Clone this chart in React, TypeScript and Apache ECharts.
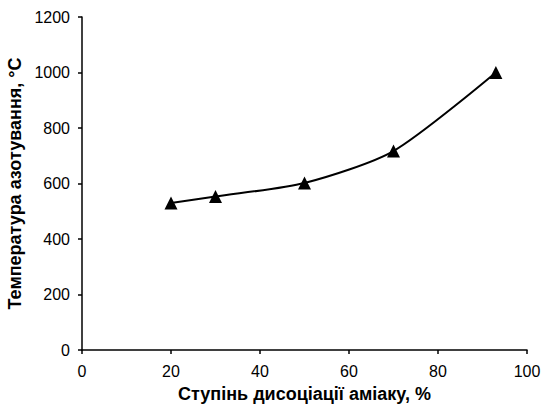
import React, { useEffect, useRef } from "react";
import * as echarts from "echarts";

const dissociation = [20, 30, 50, 70, 93];
const temperature = [530, 553, 602, 717, 1000];
const xTitle = "Ступінь дисоціації аміаку, %";
const yTitle = "Температура азотування, °С";

export default function App() {
  const ref = useRef<HTMLDivElement>(null);
  useEffect(() => {
    if (!ref.current) return;
    const chart = echarts.init(ref.current, undefined, { renderer: "svg" });
    const font = "Liberation Sans, Arial, sans-serif";
    chart.setOption({
      animation: false,
      backgroundColor: "#fff",
      grid: { left: 82, right: 17, top: 17, bottom: 56, containLabel: false, outerBoundsMode: "none" },
      xAxis: {
        type: "value",
        min: 0,
        max: 100,
        interval: 20,
        name: xTitle,
        nameLocation: "middle",
        nameGap: 35,
        nameTextStyle: { fontFamily: font, fontSize: 18, fontWeight: "bold", color: "#000" },
        axisLine: { show: true, onZero: false, lineStyle: { color: "#000", width: 1.5 } },
        axisTick: { show: true, inside: false, length: 4, lineStyle: { color: "#000", width: 1.5 } },
        axisLabel: { fontFamily: font, fontSize: 16, color: "#000", margin: 13, formatter: (v: number) => String(v) },
        splitLine: { show: false },
      },
      yAxis: {
        type: "value",
        min: 0,
        max: 1200,
        interval: 200,
        name: yTitle,
        nameLocation: "middle",
        nameGap: 56,
        nameRotate: 90,
        nameTextStyle: { fontFamily: font, fontSize: 18, fontWeight: "bold", color: "#000" },
        axisLine: { show: true, lineStyle: { color: "#000", width: 1.5 } },
        axisTick: { show: true, inside: false, length: 4, lineStyle: { color: "#000", width: 1.5 } },
        axisLabel: { fontFamily: font, fontSize: 16, color: "#000", margin: 12, formatter: (v: number) => String(v) },
        splitLine: { show: false },
      },
      series: [
        {
          type: "line",
          data: dissociation.map((x, i) => [x, temperature[i]]),
          smooth: 0.25,
          symbol: "triangle",
          symbolSize: 13,
          itemStyle: { color: "#000" },
          lineStyle: { color: "#000", width: 2 },
        },
      ],
    });
    return () => chart.dispose();
  }, []);
  return <div ref={ref} style={{ width: 544, height: 406, position: "absolute", left: 0, top: 0 }} />;
}
